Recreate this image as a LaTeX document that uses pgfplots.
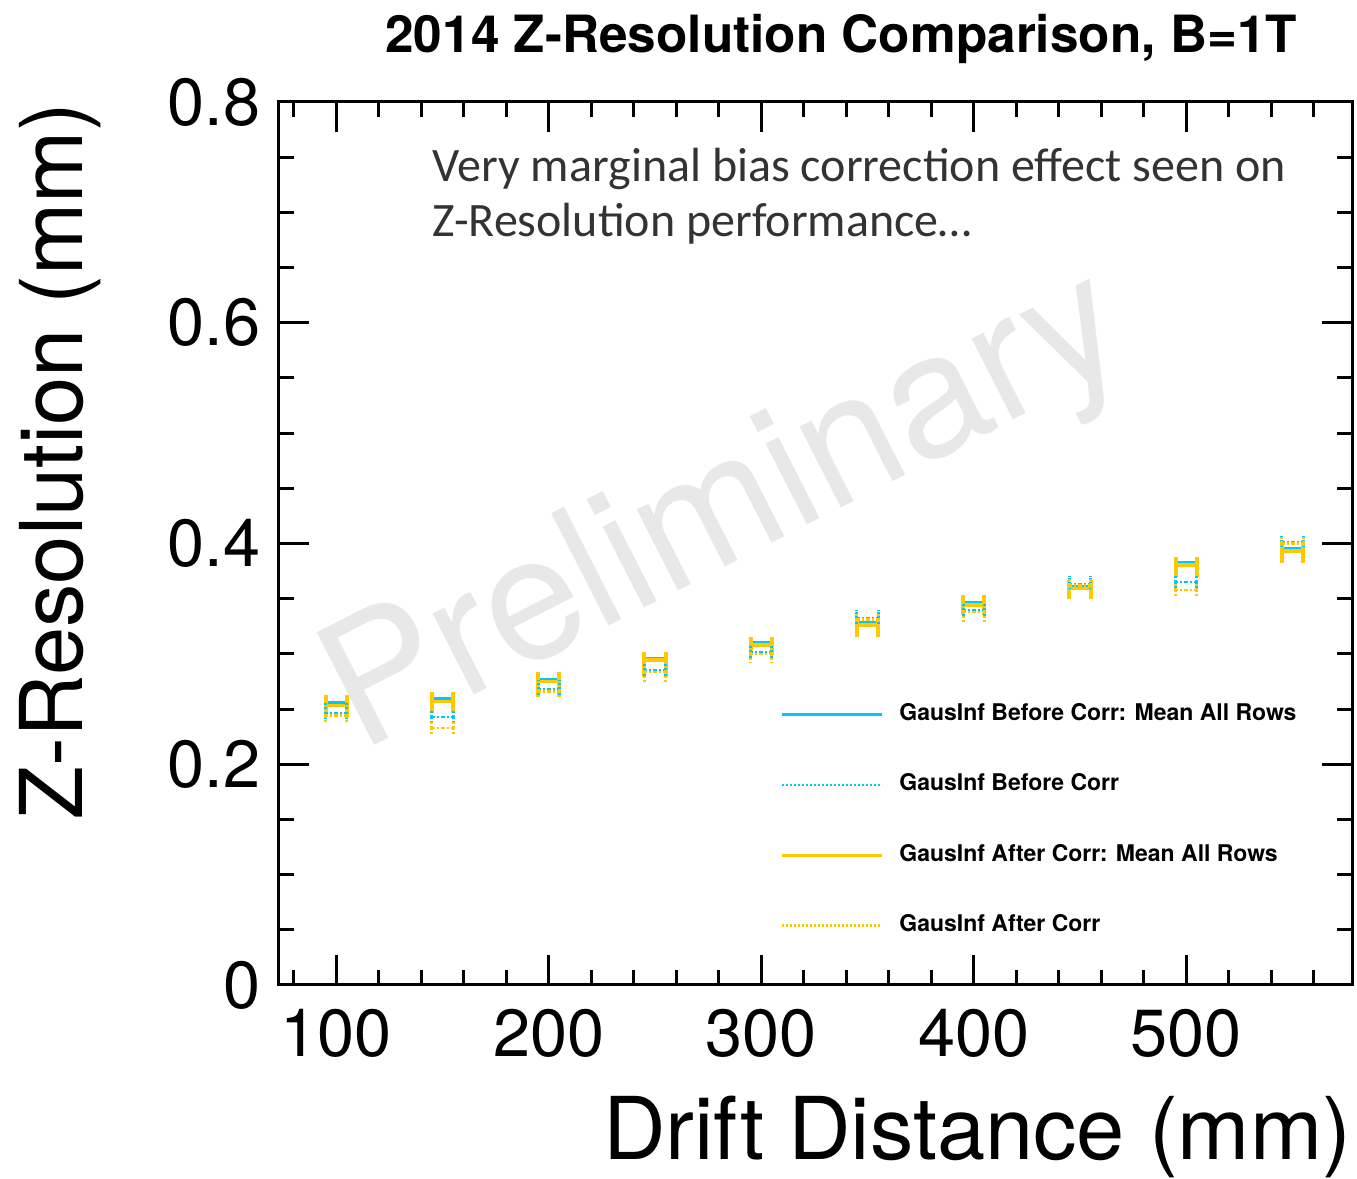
\documentclass[border=0pt]{standalone}
\usepackage{fontspec}
\setmainfont{TeX Gyre Heros}
\newfontfamily\calibri{Carlito}
\usepackage{pgfplots}
\usepackage{pgfplotstable}
\pgfplotsset{compat=1.18}
\definecolor{cyanC}{RGB}{0,200,250}
\definecolor{goldC}{RGB}{255,200,0}

% x  y  ep  em
\pgfplotstableread{
x y ep em
100 0.2555 0.0075 0.0125
150 0.2590 0.0065 0.0130
200 0.2770 0.0066 0.0160
250 0.2960 0.0057 0.0170
300 0.3100 0.0053 0.0110
350 0.3280 0.0054 0.0127
400 0.3460 0.0074 0.0110
450 0.3606 0.0064 0.0109
500 0.3823 0.0055 0.0126
550 0.3950 0.0082 0.0127
}\SC
\pgfplotstableread{
x y ep em
100 0.2535 0.0095 0.0105
150 0.2570 0.0085 0.0110
200 0.2750 0.0086 0.0140
250 0.2945 0.0072 0.0155
300 0.3080 0.0073 0.0090
350 0.3260 0.0074 0.0107
400 0.3443 0.0091 0.0093
450 0.3590 0.0080 0.0093
500 0.3805 0.0073 0.0108
550 0.3932 0.0100 0.0109
}\SY
\pgfplotstableread{
x y ep em
100 0.2464 0.0096 0.0060
150 0.2430 0.0060 0.0060
200 0.2680 0.0080 0.0070
250 0.2854 0.0066 0.0070
300 0.3017 0.0063 0.0060
350 0.3325 0.0073 0.0060
400 0.3398 0.0062 0.0060
450 0.3633 0.0073 0.0060
500 0.3651 0.0069 0.0060
550 0.4014 0.0072 0.0060
}\DC
\pgfplotstableread{
x y ep em
100 0.2440 0.0060 0.0066
150 0.2330 0.0060 0.0065
200 0.2660 0.0060 0.0070
250 0.2836 0.0060 0.0090
300 0.3000 0.0060 0.0074
350 0.3310 0.0060 0.0060
400 0.3380 0.0060 0.0100
450 0.3620 0.0060 0.0070
500 0.3579 0.0060 0.0064
550 0.4000 0.0060 0.0060
}\DY

\pgfplotsset{hbase/.style={forget plot, only marks, mark=*, mark size=0pt, mark options={draw=none, fill=none}}}
\newcommand{\Hplot}[3]{%
  \addplot[hbase, error bars/.cd, x dir=both, x fixed=5, error mark=none, error bar style={#1}]
    table[x=x, y=y] {#3};
  \addplot[hbase, error bars/.cd, y dir=both, y explicit, error mark=none, error bar style={#2}]
    table[x expr=\thisrow{x}-5, y=y, y error plus=ep, y error minus=em] {#3};
  \addplot[hbase, error bars/.cd, y dir=both, y explicit, error mark=none, error bar style={#2}]
    table[x expr=\thisrow{x}+5, y=y, y error plus=ep, y error minus=em] {#3};
}

\begin{document}
\begin{tikzpicture}
\begin{axis}[
  scale only axis,
  width=321.9pt, height=264.9pt,
  xmin=73, xmax=578, ymin=0, ymax=0.8,
  xtick={100,200,...,500},
  minor xtick={80,100,...,560},
  ytick={0,0.2,0.4,0.6,0.8},
  minor ytick={0,0.05,...,0.8},
  tick align=inside,
  major tick length=9pt, minor tick length=4.5pt,
  every tick/.style={black, line width=0.9pt},
  axis line style={line width=0.9pt},
  /pgf/number format/assume math mode=true,
  ticklabel style={font=\fontsize{20}{24}\selectfont},
  xticklabel style={yshift=-3.8pt},
  yticklabel style={xshift=-2pt},
  clip=false,
  legend style={at={(axis description cs:0.467,0.327)}, anchor=north west, draw=none, fill=none,
    font=\bfseries\fontsize{6.9}{8}\selectfont, row sep=10.5pt, inner sep=0pt,
    /tikz/column sep=2.6pt, cells={anchor=west}},
  legend image code/.code={\draw[#1] (0pt,0pt) -- (30pt,0pt);},
]
\node[rotate=27, text=black!9, font=\fontsize{52}{52}\selectfont] at (axis cs:284,0.425) {Preliminary};

\Hplot{cyanC, line width=1pt}{cyanC, line width=1.2pt}{\SC}
\Hplot{goldC, line width=1pt}{goldC, line width=1.2pt}{\SY}
\Hplot{cyanC, line width=0.7pt, dash pattern=on 0.6pt off 0.6pt}{cyanC, line width=0.9pt, dash pattern=on 0.6pt off 0.6pt}{\DC}
\Hplot{goldC, line width=0.7pt, dash pattern=on 0.6pt off 0.6pt}{goldC, line width=0.9pt, dash pattern=on 0.6pt off 0.6pt}{\DY}

\addlegendimage{cyanC, line width=1pt}
\addlegendentry{GausInf Before Corr: Mean All Rows}
\addlegendimage{cyanC, line width=0.8pt, dash pattern=on 0.6pt off 0.6pt}
\addlegendentry{GausInf Before Corr}
\addlegendimage{goldC, line width=1pt}
\addlegendentry{GausInf After Corr: Mean All Rows}
\addlegendimage{goldC, line width=0.8pt, dash pattern=on 0.6pt off 0.6pt}
\addlegendentry{GausInf After Corr}

\node[anchor=north west, align=left, inner sep=0pt, text=black!80,
  font=\calibri\fontsize{14.4}{16.5}\selectfont] at (axis description cs:0.1426,0.948)
  {Very marginal bias correction effect seen on\\Z-Resolution performance…};

\node[anchor=base, font=\bfseries\fontsize{15.4}{18}\selectfont] at (axis description cs:0.524,1.0566)
  {2014 Z-Resolution Comparison, B=1T};
\node[anchor=base east, font=\fontsize{26}{30}\selectfont, inner sep=0pt] at (axis description cs:1,-0.198)
  {Drift Distance (mm)};
\node[rotate=90, anchor=east, font=\fontsize{26}{30}\selectfont, inner sep=0pt] at (axis description cs:-0.204,1)
  {Z-Resolution (mm)};
\end{axis}
\path (current axis.south west) ++(-83.7pt,-58.2pt) coordinate (bbA);
\path (current axis.north east) ++(1.5pt,30.6pt) coordinate (bbB);
\path (bbA) rectangle (bbB);
\end{tikzpicture}
\end{document}
